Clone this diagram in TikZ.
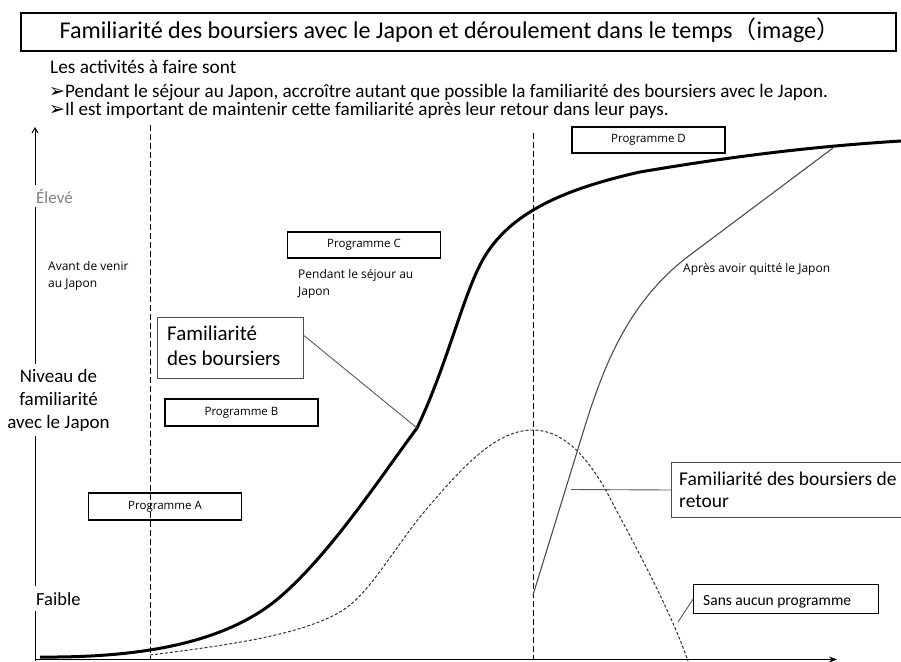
\documentclass[tikz,border=0pt]{standalone}
\usepackage{fontspec}
\setmainfont{Carlito}
\newfontfamily\osans{Open Sans}
\newfontfamily\dvs{DejaVu Sans}
\newfontfamily\cjk{Noto Sans CJK JP}
\usetikzlibrary{arrows.meta,calc}
\newcommand\fsz[2]{\fontsize{#1}{#2}\selectfont}
\newcommand\bularrow{{\dvs\fsz{19}{19}\raisebox{-0.5pt}{➢}}}
\tikzset{
  progbox/.style={draw, line width=1.6, minimum width=153, minimum height=27, inner sep=0, font=\osans\fsz{11.5}{13}},
  smalllbl/.style={anchor=base west, inner sep=0, align=left, font=\osans\fsz{12}{17}},
  axislbl/.style={fill=white, inner sep=1.5, inner ysep=4},
  leader/.style={draw=black!65, line width=0.9},
  vdash/.style={line width=1, dash pattern=on 6 off 3},
}
\begin{document}
\begin{tikzpicture}[x=1pt,y=-1pt]
\useasboundingbox (0,0) rectangle (901,661);
% title
\node[draw, line width=2.4, minimum width=875, minimum height=38, anchor=north west, inner sep=0] (titlebox) at (20,12) {};
\node[anchor=base, inner sep=0, font=\fsz{24.1}{28}] (title) at (450,38) {Familiarité des boursiers avec le Japon et déroulement dans le temps{\cjk （}image{\cjk ）}};
% intro text
\node[anchor=base west, inner sep=0, font=\fsz{19.3}{23}] (l1) at (50,74) {Les activités à faire sont};
\node[anchor=base west, inner sep=0, font=\fsz{19.1}{23}] (l2) at (49,97) {\bularrow Pendant le séjour au Japon, accroître autant que possible la familiarité des boursiers avec le Japon.};
\node[anchor=base west, inner sep=0, font=\fsz{19.1}{23}] (l3) at (49,115) {\bularrow Il est important de maintenir cette familiarité après leur retour dans leur pays.};
% axes
\coordinate (o) at (35,659.5);
\coordinate (ytop) at (35,127);
\coordinate (xend) at (837,659.5);
\draw[line width=1, -{Straight Barb[length=5pt,width=6pt]}] (35,661) -- (ytop);
\draw[line width=1.2, -{Stealth[length=8pt,width=6pt]}] (o) -- (xend);
% vertical dashed lines
\coordinate (d1t) at (150,125); \coordinate (d1b) at (150,660);
\coordinate (d2t) at (533,133); \coordinate (d2b) at (533,660);
\draw[vdash] (d1t) -- (d1b);
\draw[vdash] (d2t) -- (d2b);
% axis labels
\node[axislbl, anchor=base west, text=black!50, font=\fsz{17}{20}] (elev) at (34.5,203) {Élevé};
\node[axislbl, align=center, font=\fsz{19}{23}, inner ysep=5] (niv) at (58.5,400) {Niveau de\\familiarité\\avec le Japon};
\node[axislbl, anchor=base west, font=\fsz{18.5}{22}, inner ysep=6] (faible) at (34.5,605) {Faible};
% curve: without any programme (dashed)
\draw[line width=1, dash pattern=on 3 off 2, black!80]
  (150,655) .. controls (230,645) and (300,635) .. (340,612)
  .. controls (370,595) and (395,545) .. (430,505)
  .. controls (470,458) and (500,430) .. (533,430)
  .. controls (565,430) and (590,460) .. (610,498)
  .. controls (640,555) and (670,610) .. (688,661);
% curve: after leaving Japan (thin)
\draw[line width=1.1, black!70]
  (533,595) -- (585,426) .. controls (605,362) and (630,300) .. (690,255) -- (833,148);
% curve: familiarity of scholars (thick)
\draw[line width=3]
  (40,657) .. controls (150,658) and (230,640) .. (280,597)
  .. controls (330,554) and (380,478) .. (417,428)
  .. controls (445,370) and (462,300) .. (480,265)
  .. controls (505,215) and (560,190) .. (640,172)
  .. controls (740,155) and (820,146) .. (901,141);
% programme boxes
\node[progbox] (pa) at (165,506.5) {Programme A};
\node[progbox] (pb) at (241.5,412.5) {Programme B};
\node[progbox, minimum height=26] (pc) at (364,245) {Programme C};
\node[progbox, minimum height=26] (pd) at (648.5,140) {Programme D};
% small labels
\node[smalllbl] (avant) at (48,287) {Avant de venir\\au Japon};
\node[smalllbl] (pendant) at (298,295) {Pendant le séjour au\\Japon};
\node[smalllbl] (apres) at (683,272) {Après avoir quitté le Japon};
% callout boxes
\node[draw=black!70, line width=1, minimum width=146, minimum height=61, anchor=north west, inner sep=0] (famb) at (157,317) {};
\node[anchor=base west, inner sep=0, align=left, font=\fsz{21}{25}] (fambt) at (167,365) {Familiarité\\des boursiers};
\node[draw=black!70, line width=1, minimum width=231, minimum height=55, anchor=north west, inner sep=0] (ret) at (671,462) {};
\node[anchor=base west, inner sep=0, align=left, font=\fsz{19.5}{22}] (rett) at (679,507) {Familiarité des boursiers de\\retour};
\node[draw, line width=1.4, minimum width=185, minimum height=29, anchor=north west, inner sep=0] (sans) at (693,584) {};
\node[anchor=base west, inner sep=0, font=\fsz{15.5}{18}] (sanst) at (703,605) {Sans aucun programme};
% leaders
\coordinate (k1) at (417,428);
\coordinate (k2) at (571,489.5);
\coordinate (k3) at (678,622);
\draw[leader] ($(famb.north east)!0.3!(famb.south east)$) -- (k1);
\draw[leader] (ret.west) -- (k2);
\draw[leader] (sans.west) -- (k3);
\end{tikzpicture}
\end{document}
